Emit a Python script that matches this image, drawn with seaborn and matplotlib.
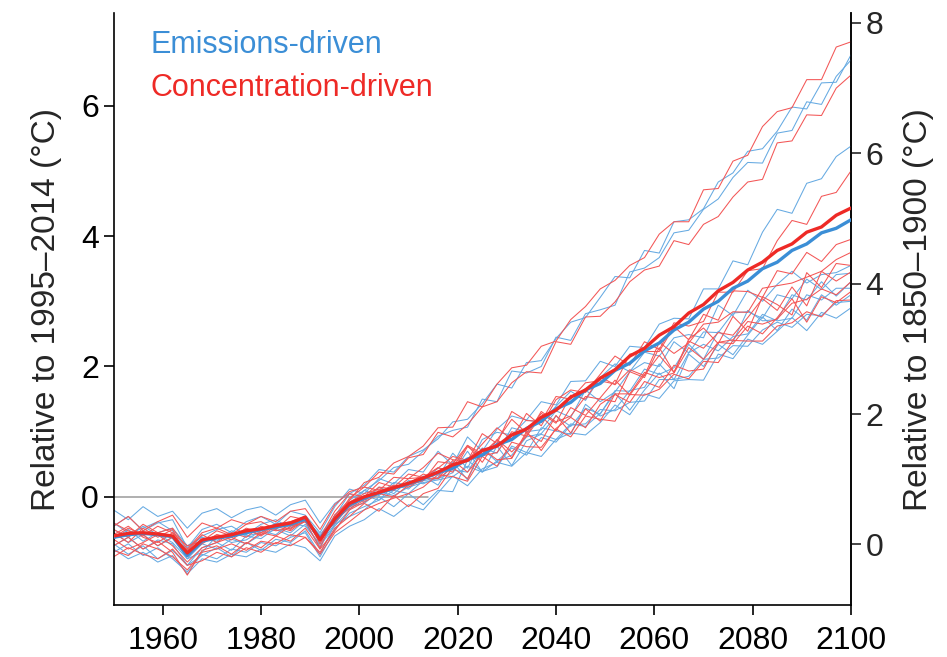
import matplotlib
matplotlib.use("Agg")
import matplotlib.pyplot as plt
from matplotlib import font_manager
import numpy as np
import pandas as pd
import seaborn as sns

# ---------------- data ----------------
years = list(range(1950, 2101, 3))

emis_mean = [-0.62, -0.58, -0.56, -0.58, -0.61, -0.90, -0.68, -0.63, -0.60, -0.55,
             -0.50, -0.46, -0.42, -0.34, -0.64, -0.36, -0.12, -0.02, 0.06, 0.13,
             0.20, 0.28, 0.37, 0.44, 0.58, 0.64, 0.80, 0.88, 1.05, 1.16,
             1.35, 1.45, 1.64, 1.74, 1.94, 2.05, 2.24, 2.36, 2.56, 2.68,
             2.88, 3.00, 3.20, 3.31, 3.50, 3.60, 3.78, 3.88, 4.05, 4.12, 4.25]

conc_mean = [-0.60, -0.56, -0.55, -0.57, -0.60, -0.86, -0.66, -0.62, -0.58, -0.52,
             -0.49, -0.44, -0.40, -0.31, -0.66, -0.34, -0.10, 0.00, 0.07, 0.14,
             0.21, 0.29, 0.38, 0.49, 0.56, 0.71, 0.78, 0.95, 1.04, 1.22,
             1.33, 1.53, 1.64, 1.82, 1.95, 2.16, 2.28, 2.48, 2.61, 2.82,
             2.95, 3.16, 3.29, 3.48, 3.60, 3.78, 3.88, 4.06, 4.14, 4.32, 4.43]

emis_runs = {
    "E1": [-0.75, -0.62, -0.80, -0.66, -0.72, -1.05, -0.78, -0.70, -0.82, -0.60, -0.64,
           -0.48, -0.55, -0.36, -0.80, -0.30, 0.05, 0.18, 0.42, 0.38, 0.62, 0.72,
           0.89, 1.15, 1.19, 1.43, 1.73, 1.67, 2.06, 2.09, 2.43, 2.68, 2.75, 3.06,
           3.38, 3.36, 3.78, 3.74, 4.22, 4.25, 4.42, 4.83, 4.97, 5.30, 5.34, 5.61,
           5.98, 5.95, 6.35, 6.36, 6.78],
    "E2": [-0.55, -0.70, -0.58, -0.75, -0.62, -0.95, -0.85, -0.60, -0.70, -0.66, -0.52,
           -0.58, -0.40, -0.45, -0.72, -0.42, -0.12, 0.10, 0.25, 0.45, 0.50, 0.70,
           0.93, 1.02, 1.07, 1.50, 1.46, 1.93, 1.90, 2.00, 2.45, 2.40, 2.81, 2.87,
           2.94, 3.45, 3.51, 3.67, 4.05, 4.09, 4.41, 4.57, 4.90, 5.13, 5.12, 5.58,
           5.62, 6.06, 6.02, 6.45, 6.70],
    "E3": [-0.45, -0.30, -0.52, -0.40, -0.35, -0.78, -0.50, -0.42, -0.55, -0.38, -0.30,
           -0.42, -0.22, -0.28, -0.55, -0.15, 0.12, 0.05, 0.28, 0.20, 0.42, 0.38,
           0.70, 0.49, 0.92, 0.70, 1.04, 1.24, 1.18, 1.46, 1.41, 1.77, 1.78, 2.08,
           2.00, 2.31, 2.29, 2.65, 2.74, 2.73, 3.19, 3.19, 3.62, 3.56, 4.06, 4.41,
           4.35, 4.81, 4.88, 5.22, 5.38],
    "E4": [-0.20, -0.35, -0.15, -0.30, -0.22, -0.48, -0.25, -0.18, -0.32, -0.20, -0.15,
           -0.28, -0.12, -0.05, -0.40, -0.10, 0.05, -0.08, 0.15, 0.05, 0.25, 0.20,
           0.30, 0.67, 0.44, 0.88, 0.99, 0.95, 1.18, 1.14, 1.39, 1.62, 1.48, 1.83,
           2.04, 1.92, 2.22, 2.16, 2.44, 2.49, 2.44, 2.94, 2.78, 3.17, 3.00, 3.26,
           3.46, 3.28, 3.41, 3.44, 3.55],
    "E5": [-0.85, -0.72, -0.90, -0.78, -0.95, -1.15, -0.88, -0.95, -0.80, -0.85, -0.70,
           -0.75, -0.62, -0.55, -0.92, -0.50, -0.25, -0.15, -0.05, 0.10, 0.05, 0.25,
           0.44, 0.41, 0.38, 0.75, 0.67, 1.06, 1.00, 1.03, 1.32, 1.22, 1.64, 1.46,
           1.61, 1.92, 2.06, 2.00, 2.38, 2.21, 2.53, 2.52, 2.82, 2.84, 2.74, 3.10,
           3.04, 3.34, 3.18, 3.41, 3.43],
    "E6": [-0.50, -0.62, -0.45, -0.58, -0.70, -0.95, -0.72, -0.80, -0.65, -0.72, -0.58,
           -0.50, -0.60, -0.42, -0.75, -0.45, -0.20, 0.02, -0.05, 0.18, 0.12, 0.32,
           0.18, 0.54, 0.26, 0.74, 0.54, 0.64, 0.92, 0.97, 1.24, 1.08, 1.36, 1.27,
           1.63, 1.62, 1.96, 1.88, 1.98, 2.34, 2.11, 2.54, 2.38, 2.86, 2.70, 2.72,
           3.10, 3.02, 3.30, 3.08, 3.30],
    "E7": [-0.72, -0.88, -0.75, -0.95, -0.82, -1.05, -0.90, -0.78, -0.92, -0.70, -0.82,
           -0.65, -0.70, -0.52, -0.88, -0.42, -0.30, -0.20, 0.00, -0.15, 0.05, -0.12,
           0.10, 0.08, 0.56, 0.39, 0.46, 0.78, 0.68, 1.06, 1.01, 0.96, 1.42, 1.24,
           1.34, 1.63, 1.68, 2.04, 1.80, 2.21, 2.34, 2.24, 2.46, 2.50, 2.80, 2.70,
           2.74, 3.10, 3.02, 3.20, 3.20],
    "E8": [-0.40, -0.55, -0.48, -0.38, -0.52, -0.82, -0.60, -0.50, -0.45, -0.58, -0.42,
           -0.35, -0.48, -0.30, -0.62, -0.28, -0.05, 0.10, 0.02, 0.22, 0.18, 0.25,
           0.28, 0.37, 0.70, 0.38, 0.78, 0.48, 0.86, 0.96, 0.88, 1.12, 1.08, 1.28,
           1.59, 1.33, 1.64, 1.90, 1.66, 2.19, 2.00, 2.34, 2.18, 2.48, 2.76, 2.55,
           2.88, 2.71, 3.10, 2.94, 3.10],
    "E9": [-0.65, -0.50, -0.68, -0.55, -0.48, -0.75, -0.62, -0.68, -0.52, -0.60, -0.55,
           -0.40, -0.45, -0.35, -0.58, -0.30, -0.15, -0.10, 0.08, 0.02, 0.15, 0.22,
           0.26, 0.31, 0.47, 0.38, 0.55, 0.75, 0.64, 0.91, 0.84, 1.10, 1.12, 1.34,
           1.32, 1.45, 1.47, 1.80, 1.80, 1.85, 2.11, 2.13, 2.32, 2.31, 2.56, 2.68,
           2.60, 2.80, 2.78, 2.98, 3.00],
    "E10": [-0.80, -0.95, -0.85, -1.00, -0.90, -1.18, -0.95, -1.00, -0.88, -0.92, -0.80,
            -0.85, -0.72, -0.78, -0.98, -0.60, -0.45, -0.35, -0.18, -0.30, -0.12, -0.20,
            0.06, 0.32, 0.17, 0.43, 0.53, 0.47, 0.68, 0.62, 0.88, 0.98, 0.95, 1.14,
            1.41, 1.26, 1.58, 1.51, 1.78, 1.80, 1.79, 2.19, 2.12, 2.42, 2.34, 2.54,
            2.75, 2.55, 2.83, 2.74, 2.90],
}

conc_runs = {
    "C1": [-0.65, -0.80, -0.70, -0.58, -0.75, -1.00, -0.78, -0.70, -0.62, -0.72, -0.55,
           -0.60, -0.45, -0.38, -0.78, -0.28, -0.05, 0.22, 0.30, 0.52, 0.62, 0.78,
           1.06, 1.07, 1.46, 1.38, 1.73, 1.98, 2.02, 2.31, 2.39, 2.72, 2.92, 3.19,
           3.32, 3.55, 3.67, 4.03, 4.22, 4.22, 4.71, 4.73, 5.15, 5.24, 5.68, 5.91,
           5.97, 6.40, 6.40, 6.90, 6.98],
    "C2": [-0.58, -0.45, -0.62, -0.70, -0.55, -0.88, -0.72, -0.58, -0.66, -0.50, -0.58,
           -0.42, -0.50, -0.30, -0.68, -0.35, -0.02, 0.15, 0.38, 0.35, 0.60, 0.65,
           0.99, 0.92, 1.11, 1.38, 1.46, 1.75, 1.92, 1.90, 2.38, 2.34, 2.76, 2.77,
           2.99, 3.30, 3.48, 3.54, 3.93, 3.87, 4.18, 4.30, 4.60, 4.83, 4.87, 5.43,
           5.46, 5.86, 5.85, 6.27, 6.47],
    "C3": [-0.50, -0.62, -0.42, -0.55, -0.48, -0.80, -0.55, -0.48, -0.58, -0.42, -0.38,
           -0.50, -0.30, -0.35, -0.62, -0.22, 0.05, 0.00, 0.22, 0.15, 0.35, 0.30,
           0.44, 0.62, 0.56, 0.81, 1.06, 0.88, 1.28, 1.09, 1.49, 1.64, 1.60, 1.88,
           2.16, 2.02, 2.38, 2.26, 2.67, 2.62, 2.69, 3.14, 3.14, 3.47, 3.50, 3.93,
           4.24, 4.18, 4.61, 4.67, 5.00],
    "C4": [-0.45, -0.30, -0.52, -0.38, -0.28, -0.62, -0.40, -0.48, -0.35, -0.42, -0.30,
           -0.38, -0.22, -0.18, -0.50, -0.12, 0.08, 0.15, 0.10, 0.30, 0.28, 0.45,
           0.67, 0.57, 0.55, 0.97, 0.82, 1.31, 1.17, 1.16, 1.54, 1.50, 1.75, 1.78,
           1.73, 2.19, 2.23, 2.23, 2.61, 2.41, 2.80, 2.71, 3.16, 3.15, 3.06, 3.47,
           3.42, 3.75, 3.61, 3.87, 3.95],
    "C5": [-0.75, -0.62, -0.80, -0.68, -0.85, -1.20, -0.82, -0.75, -0.88, -0.70, -0.78,
           -0.60, -0.68, -0.48, -0.80, -0.52, -0.20, -0.08, 0.05, 0.00, 0.18, 0.25,
           0.54, 0.51, 0.79, 0.66, 0.87, 1.19, 0.98, 1.28, 1.13, 1.56, 1.50, 1.84,
           1.72, 1.95, 1.86, 2.37, 2.20, 2.36, 2.65, 2.68, 2.84, 2.83, 3.20, 3.24,
           3.28, 3.37, 3.46, 3.64, 3.75],
    "C6": [-0.55, -0.70, -0.48, -0.62, -0.50, -0.92, -0.70, -0.58, -0.62, -0.48, -0.55,
           -0.42, -0.38, -0.30, -0.72, -0.28, -0.08, 0.05, 0.12, 0.10, 0.28, 0.30,
           0.45, 0.38, 0.77, 0.63, 0.68, 1.00, 0.93, 1.31, 1.15, 1.24, 1.54, 1.50,
           1.46, 1.92, 1.83, 2.29, 1.91, 2.42, 2.59, 2.35, 2.77, 2.54, 3.07, 2.95,
           2.79, 3.44, 3.21, 3.58, 3.55],
    "C7": [-0.62, -0.48, -0.58, -0.75, -0.62, -0.82, -0.58, -0.70, -0.55, -0.62, -0.45,
           -0.52, -0.48, -0.38, -0.62, -0.40, -0.15, -0.02, 0.15, 0.12, 0.20, 0.35,
           0.28, 0.45, 0.79, 0.53, 0.88, 0.69, 0.93, 1.24, 1.01, 1.37, 1.25, 1.52,
           1.79, 1.56, 1.87, 2.17, 1.91, 2.39, 2.28, 2.52, 2.48, 2.75, 3.04, 2.86,
           3.22, 2.93, 3.46, 3.31, 3.45],
    "C8": [-0.82, -0.90, -0.72, -0.80, -0.92, -1.12, -0.85, -0.80, -0.72, -0.82, -0.68,
           -0.72, -0.58, -0.62, -0.85, -0.48, -0.30, -0.10, -0.22, 0.02, -0.15, 0.05,
           0.13, 0.45, 0.28, 0.74, 0.57, 0.59, 0.97, 0.85, 1.25, 0.98, 1.35, 1.16,
           1.58, 1.58, 1.91, 1.83, 1.90, 2.29, 2.11, 2.37, 2.41, 2.69, 2.65, 2.73,
           2.97, 3.03, 3.19, 3.10, 3.30],
    "C9": [-0.40, -0.52, -0.60, -0.45, -0.55, -0.75, -0.68, -0.52, -0.60, -0.50, -0.60,
           -0.45, -0.52, -0.35, -0.68, -0.35, -0.18, -0.05, 0.08, 0.18, 0.15, 0.28,
           0.28, 0.56, 0.38, 0.65, 0.87, 0.60, 1.00, 0.71, 1.05, 1.22, 1.06, 1.42,
           1.57, 1.45, 1.77, 1.68, 2.02, 1.93, 1.96, 2.37, 2.35, 2.62, 2.50, 2.75,
           3.04, 2.68, 3.07, 2.98, 3.15],
    "C10": [-0.92, -0.78, -0.88, -0.95, -0.80, -1.05, -0.98, -0.85, -0.92, -0.78, -0.85,
            -0.70, -0.75, -0.62, -0.88, -0.55, -0.38, -0.20, -0.10, -0.02, 0.05, 0.15,
            0.34, 0.31, 0.24, 0.62, 0.47, 0.84, 0.77, 0.76, 1.04, 0.92, 1.24, 1.19,
            1.16, 1.57, 1.56, 1.65, 1.88, 1.81, 2.08, 2.06, 2.40, 2.39, 2.39, 2.62,
            2.67, 2.84, 2.76, 3.01, 3.02],
}

legend_labels = ["Emissions-driven", "Concentration-driven"]
offset_1850 = 0.73  # 1995-2014 relative to 1850-1900

# ---------------- style ----------------
sns.set_style("ticks")
names = {f.name for f in font_manager.fontManager.ttflist}
fam = "Liberation Sans Narrow" if "Liberation Sans Narrow" in names else "Liberation Sans"
plt.rcParams["font.family"] = [fam, "DejaVu Sans"]

c_blue_thin = "#66AAE2"
c_red_thin = "#F35656"
c_blue = "#3B8ED6"
c_red = "#EE2A26"

fig = plt.figure(figsize=(9.47, 6.57), dpi=100)
ax = fig.add_axes([0.1199, 0.079, 0.7787, 0.901])

ax.plot([1950, 2014], [0, 0], color="#9a9a9a", lw=1.1, zorder=1)

for k, v in emis_runs.items():
    sns.lineplot(x=years, y=v, ax=ax, color=c_blue_thin, lw=0.75, zorder=2)
for k, v in conc_runs.items():
    sns.lineplot(x=years, y=v, ax=ax, color=c_red_thin, lw=0.75, zorder=2)
sns.lineplot(x=years, y=emis_mean, ax=ax, color=c_blue, lw=2.4, zorder=3)
sns.lineplot(x=years, y=conc_mean, ax=ax, color=c_red, lw=2.4, zorder=4)

ax.set_xlim(1950, 2100)
ax.set_ylim(-1.66, 7.42)
ax.set_xticks([1960, 1980, 2000, 2020, 2040, 2060, 2080, 2100])
ax.set_yticks([0, 2, 4, 6])
ax.tick_params(axis="both", direction="out", length=7, width=1.2, labelsize=23,
               colors="black")
ax.tick_params(axis="x", pad=8)
for s in ["left", "bottom", "right"]:
    ax.spines[s].set_linewidth(1.2)
    ax.spines[s].set_color("black")
ax.spines["top"].set_visible(False)
ax.set_ylabel("Relative to 1995–2014 (°C)", fontsize=24, labelpad=14)
ax.set_xlabel("")

sec = ax.secondary_yaxis("right", functions=(lambda y: y + offset_1850,
                                              lambda y: y - offset_1850))
sec.set_yticks([0, 2, 4, 6, 8])
sec.tick_params(direction="out", length=7, width=1.2, labelsize=23)
sec.spines["right"].set_linewidth(1.2)
sec.set_ylabel("Relative to 1850–1900 (°C)", fontsize=24, labelpad=14)

ax.text(0.05, 0.946, legend_labels[0], transform=ax.transAxes, color=c_blue,
        fontsize=22, va="center", ha="left")
ax.text(0.05, 0.873, legend_labels[1], transform=ax.transAxes, color=c_red,
        fontsize=22, va="center", ha="left")

fig.savefig("out.png", dpi=100)
